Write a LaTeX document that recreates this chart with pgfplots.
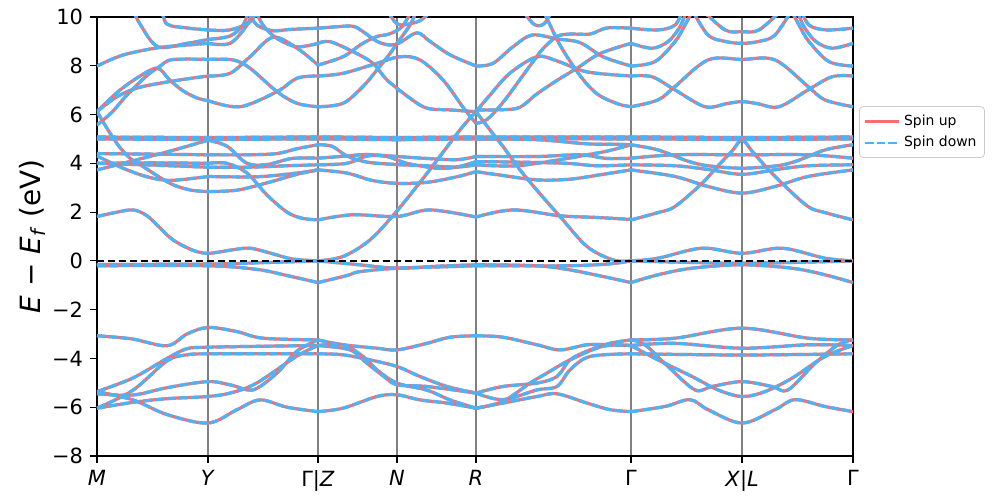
\documentclass[border=0pt]{standalone}
\usepackage{fontspec}
\setmainfont{DejaVu Sans}
\usepackage{pgfplots}
\pgfplotsset{compat=1.18}
\definecolor{spinup}{HTML}{FF6B6B}
\definecolor{spindn}{HTML}{4DB3F7}
\pgfplotsset{
 bu/.style={spinup, line width=1.6bp, smooth, tension=0.55, forget plot},
 bd/.style={spindn, line width=1.6bp, dash pattern=on 4.4bp off 1.5bp, smooth, tension=0.55, forget plot},
}
\newcommand{\band}[1]{\addplot[bu] coordinates {#1};\addplot[bd] coordinates {#1};}
\begin{document}
\begin{tikzpicture}
\useasboundingbox (-48.5bp,-21bp) rectangle (450bp,228bp);
\begin{axis}[
 at={(0,0)}, anchor=south west,
 scale only axis, width=378bp, height=219.5bp,
 xmin=0, xmax=756, ymin=-8, ymax=10,
 xtick={0,111,221,300,379,534,645,756},
 xticklabels={\textit{M},\textit{Y},Γ|\textit{Z},\textit{N},\textit{R},Γ,\textit{X}|\textit{L},Γ},
 ytick={-8,-6,-4,-2,0,2,4,6,8,10},
 yticklabels={−8,−6,−4,−2,0,2,4,6,8,10},
 tick label style={font=\fontsize{10.5}{12}\selectfont},
 tick align=outside, tick pos=left,
 major tick length=3.5bp,
 tick style={black, line width=0.6bp},
 xmajorgrids, major x grid style={black!50, line width=0.7bp},
 axis line style={line width=0.7bp},
 ylabel={\textit{E} − \textit{E}\textsubscript{\textit{f}} (eV)},
 ylabel style={at={(axis description cs:-0.085,0.5)}, anchor=center, font=\fontsize{14}{16}\selectfont},
 legend style={at={(axis description cs:1.008,0.797)}, anchor=north west, font=\fontsize{7}{8.5}\selectfont, draw=black!20, rounded corners=2pt, inner sep=2pt},
 legend cell align=left,
]
% ---------- M - Y ----------
\band{(36,10.3)(43,9.71)(61,8.78)(90,8.92)(111,9.08)}
\band{(0,7.99)(26,8.44)(61,8.74)(90,8.85)(111,8.92)}
\band{(65,10.3)(70,9.71)(90,9.55)(111,9.47)}
\band{(0,6.12)(20,6.9)(40,7.5)(60,7.9)(72,7.45)(85,7.0)(100,6.68)(111,6.57)}
\band{(0,6.12)(20,6.73)(43,7.12)(80,7.4)(111,7.58)}
\band{(0,5.57)(15,6.1)(30,6.8)(50,7.6)(62,7.95)(75,8.25)(111,8.26)}
\band{(0,4.4)(50,4.38)(111,4.35)}
\band{(0,4.3)(26,3.8)(50,3.45)(73,3.3)(111,3.46)}
\band{(0,3.73)(26,4.0)(73,4.5)(111,4.95)}
\band{(0,4.0)(55,3.93)(111,3.84)}
\band{(0,4.0)(55,4.02)(111,4.0)}
\band{(0,6.12)(11,5.37)(22,4.7)(33,4.21)(46,3.87)(73,3.18)(93,2.91)(111,2.84)}
\band{(0,5.08)(111,5.06)(221,5.08)(300,5.06)(379,5.08)(534,5.08)(645,5.06)(756,5.08)}
\band{(0,5.0)(111,4.98)(221,5.0)(300,4.97)(379,5.0)(534,5.0)(645,4.98)(756,5.0)}
\band{(0,1.82)(18,1.98)(36,2.09)(50,1.85)(63,1.35)(76,0.86)(95,0.45)(111,0.31)(135,0.45)(153,0.52)(175,0.3)(195,0.08)(221,0.0)}
\band{(0,-0.15)(111,-0.13)(160,-0.08)(221,0.0)}
\band{(0,-0.2)(111,-0.2)(160,-0.35)(190,-0.6)(221,-0.89)}
\band{(0,-3.07)(35,-3.2)(70,-3.48)(90,-3.0)(111,-2.73)(140,-2.9)(166,-3.17)(221,-3.24)}
\band{(0,-5.36)(36,-4.8)(70,-4.0)(90,-3.6)(111,-3.54)(166,-3.5)(221,-3.47)}
\band{(0,-6.04)(36,-5.3)(70,-4.1)(90,-3.85)(111,-3.81)(166,-3.81)(221,-3.81)}
\band{(0,-5.45)(36,-5.5)(70,-5.2)(111,-4.95)(135,-5.1)(156,-5.29)(180,-4.6)(200,-3.7)(221,-3.24)}
\band{(0,-6.04)(36,-5.8)(70,-5.65)(111,-5.56)(135,-5.4)(160,-5.0)(200,-3.9)(221,-3.47)}
\band{(0,-5.36)(36,-5.7)(70,-6.3)(111,-6.65)(140,-6.1)(163,-5.70)(190,-6.0)(221,-6.18)}
% ---------- Y - Gamma|Z ----------
\band{(111,8.26)(136,8.24)(153,7.90)(180,6.94)(200,6.46)(221,6.32)}
\band{(111,6.57)(143,6.32)(180,6.94)(200,7.49)(221,7.58)}
\band{(111,7.58)(133,7.69)(153,8.37)(176,9.17)(200,8.72)(221,8.03)}
\band{(111,8.92)(133,8.92)(150,9.67)(156,10.3)}
\band{(111,9.08)(133,9.22)(146,9.67)(152,10.3)}
\band{(111,9.47)(133,9.47)(153,9.8)(160,10.3)}
\band{(158,10.3)(166,9.67)(180,9.12)(200,8.78)(221,8.92)}
\band{(150,10.3)(160,9.67)(176,9.44)(193,9.49)(221,9.54)}
\band{(111,4.95)(130,4.7)(150,4.0)(170,3.95)(195,4.2)(221,4.21)}
\band{(111,4.35)(150,4.35)(180,4.4)(200,4.6)(221,4.76)}
\band{(111,4.0)(130,4.0)(150,3.6)(170,2.7)(190,2.0)(205,1.75)(221,1.68)}
\band{(111,3.84)(150,3.84)(190,3.9)(221,3.94)}
\band{(111,3.46)(160,3.45)(200,3.6)(221,3.73)}
\band{(111,2.84)(140,2.9)(170,3.2)(200,3.55)(221,3.73)}
% ---------- Gamma|Z - N - R ----------
\band{(221,9.54)(240,9.6)(256,9.62)(266,9.4)(280,9.0)(293,8.85)(303,8.95)(320,9.35)(333,9.0)(353,8.45)(379,7.99)}
\band{(221,8.92)(233,8.99)(256,8.58)(276,8.10)(290,7.42)(313,6.67)(330,6.26)(353,6.19)(379,6.12)}
\band{(221,8.03)(246,8.37)(265,8.9)(280,9.2)(292,9.3)(305,9.6)(315,10.3)}
\band{(221,7.58)(246,7.69)(280,8.10)(303,8.37)(323,8.24)(346,7.42)(366,6.3)(379,5.64)}
\band{(221,6.32)(246,6.46)(266,7.15)(280,7.83)(293,8.5)(300,8.92)(313,9.67)(320,10.3)}
\band{(290,10.3)(300,9.72)(313,9.72)(325,9.9)(335,10.3)}
\band{(221,0.0)(246,0.18)(273,0.86)(300,2.05)(330,3.59)(363,5.37)(379,6.12)}
\band{(221,4.76)(235,4.7)(250,4.3)(270,4.05)(300,3.95)(330,3.9)(360,3.85)(379,3.94)}
\band{(221,4.21)(250,4.3)(270,4.36)(300,4.28)(330,4.2)(360,4.15)(379,4.28)}
\band{(221,3.94)(250,4.0)(270,4.3)(290,4.28)(310,4.0)(340,3.8)(360,3.85)(379,4.07)}
\band{(221,3.73)(250,3.6)(275,3.3)(300,3.18)(330,3.22)(360,3.45)(379,3.66)}
\band{(221,1.68)(255,1.89)(300,1.82)(333,2.09)(379,1.8)}
\band{(221,0.0)(260,-0.15)(300,-0.3)(340,-0.22)(379,-0.16)}
\band{(221,-0.89)(250,-0.6)(263,-0.44)(300,-0.3)(340,-0.25)(379,-0.2)}
\band{(221,-3.24)(246,-3.44)(280,-3.58)(300,-3.65)(330,-3.38)(353,-3.13)(379,-3.07)}
\band{(221,-3.47)(246,-3.44)(266,-3.92)(280,-4.47)(300,-5.01)(330,-5.3)(353,-5.7)(379,-6.04)}
\band{(221,-3.81)(246,-3.85)(273,-4.06)(300,-4.33)(323,-4.74)(350,-5.15)(379,-5.42)}
\band{(221,-3.47)(253,-3.65)(270,-4.2)(287,-4.74)(300,-5.08)(330,-5.15)(379,-5.42)}
\band{(221,-6.18)(246,-6.04)(280,-5.56)(300,-5.49)(323,-5.7)(350,-5.83)(379,-6.04)}
% ---------- R - Gamma ----------
\band{(379,7.99)(396,8.1)(416,8.78)(435,9.26)(460,9.1)(483,8.95)(506,8.37)(534,7.99)}
\band{(379,6.12)(393,6.8)(413,7.7)(440,8.37)(460,8.2)(490,7.75)(534,7.58)}
\band{(379,6.19)(406,6.2)(423,6.3)(440,6.85)(460,7.4)(480,7.9)(503,8.5)(534,8.92)}
\band{(379,5.64)(390,5.8)(406,6.5)(433,8.0)(446,8.7)(460,9.2)(473,9.3)(493,9.3)(510,9.55)(534,9.54)}
\band{(446,10.3)(463,8.85)(483,7.6)(500,6.85)(520,6.45)(534,6.32)}
\band{(425,10.3)(437,9.7)(447,9.72)(455,10.3)}
\band{(379,6.12)(393,5.37)(406,4.69)(423,3.73)(443,2.75)(463,1.82)(490,0.59)(516,0.04)(534,0.0)}
\band{(379,5.0)(440,4.97)(490,4.8)(520,4.78)(534,4.76)}
\band{(379,4.28)(440,4.28)(483,4.35)(510,4.2)(534,4.21)}
\band{(379,4.07)(420,4.05)(470,4.0)(500,3.9)(534,3.94)}
\band{(379,3.94)(420,3.9)(470,4.2)(490,4.35)(510,4.5)(534,4.76)}
\band{(379,3.66)(406,3.5)(440,3.32)(473,3.35)(506,3.55)(534,3.73)}
\band{(379,1.8)(416,2.09)(463,1.85)(500,1.78)(534,1.7)}
\band{(379,-0.16)(440,-0.2)(473,-0.37)(506,-0.64)(534,-0.89)}
\band{(379,-0.2)(470,-0.2)(513,-0.12)(534,0.0)}
\band{(379,-3.07)(406,-3.13)(440,-3.44)(463,-3.65)(490,-3.44)(513,-3.44)(534,-3.47)}
\band{(379,-5.42)(406,-5.15)(440,-5.01)(460,-4.74)(473,-4.06)(493,-3.65)(513,-3.38)(534,-3.24)}
\band{(379,-5.42)(406,-5.69)(440,-5.29)(460,-5.15)(473,-4.47)(493,-3.92)(534,-3.81)}
\band{(379,-6.04)(406,-5.76)(433,-5.01)(450,-4.6)(473,-4.06)(506,-3.5)(534,-3.47)}
\band{(379,-6.04)(406,-5.83)(440,-5.56)(460,-5.45)(490,-5.83)(513,-6.1)(534,-6.18)}
% ---------- Gamma - X|L - Gamma ----------
\band{(534,7.58)(555,7.55)(578,7.01)(608,6.32)(630,6.45)(645,6.53)(660,6.45)(682,6.32)(711,7.01)(735,7.55)(756,7.58)}
\band{(534,6.32)(561,6.6)(578,7.15)(611,8.24)(645,8.26)(678,8.24)(711,7.15)(728,6.6)(756,6.32)}
\band{(534,7.99)(558,8.17)(578,8.99)(588,9.67)(596,10.3)}
\band{(694,10.3)(702,9.67)(712,8.99)(732,8.17)(756,7.99)}
\band{(534,8.92)(555,8.72)(571,8.99)(583,9.6)(590,10.3)}
\band{(700,10.3)(707,9.6)(719,8.99)(735,8.72)(756,8.92)}
\band{(534,9.54)(561,9.47)(578,9.67)(586,10.3)}
\band{(704,10.3)(712,9.67)(729,9.47)(756,9.54)}
\band{(595,10.3)(611,9.26)(628,9.0)(645,8.92)(662,9.0)(678,9.26)(695,10.3)}
\band{(605,10.3)(628,9.47)(645,9.4)(662,9.47)(685,10.3)}
\band{(534,4.76)(561,4.55)(590,4.1)(611,3.9)(645,3.8)(680,3.9)(700,4.1)(728,4.55)(756,4.76)}
\band{(534,4.21)(578,4.35)(645,4.35)(711,4.35)(756,4.21)}
\band{(534,3.94)(578,3.9)(611,3.75)(645,3.55)(680,3.75)(711,3.9)(756,3.94)}
\band{(534,3.73)(578,3.46)(611,3.05)(645,2.78)(678,3.05)(711,3.46)(756,3.73)}
\band{(534,1.68)(561,1.98)(578,2.23)(605,3.18)(621,3.9)(635,4.5)(645,4.96)(655,4.5)(668,3.9)(685,3.18)(711,2.23)(728,1.98)(756,1.68)}
\band{(534,0.0)(561,0.11)(605,0.52)(645,0.31)(685,0.52)(728,0.11)(756,0.0)}
\band{(534,0.0)(590,-0.06)(645,-0.1)(700,-0.06)(756,0.0)}
\band{(534,-0.89)(561,-0.57)(595,-0.3)(645,-0.16)(695,-0.3)(728,-0.57)(756,-0.89)}
\band{(534,-3.24)(578,-3.17)(645,-2.76)(711,-3.17)(756,-3.24)}
\band{(534,-3.47)(578,-3.38)(645,-3.58)(711,-3.44)(756,-3.47)}
\band{(534,-3.81)(590,-3.84)(645,-3.86)(700,-3.84)(756,-3.81)}
\band{(534,-3.24)(548,-3.44)(571,-4.33)(598,-5.29)(615,-5.15)(645,-4.95)(675,-5.15)(691,-5.29)(718,-4.2)(741,-3.44)(756,-3.24)}
\band{(534,-3.47)(561,-4.06)(595,-4.74)(621,-5.29)(645,-5.56)(668,-5.36)(695,-4.81)(728,-3.92)(756,-3.47)}
\band{(534,-6.18)(568,-5.97)(593,-5.69)(611,-6.1)(645,-6.65)(678,-6.1)(698,-5.69)(728,-5.97)(756,-6.18)}
% Fermi level
\addplot[black, line width=1bp, dash pattern=on 3.5bp off 2bp, forget plot] coordinates {(0,0)(756,0)};
\addlegendimage{spinup, line width=1.3bp}
\addlegendentry{Spin up}
\addlegendimage{spindn, line width=1.3bp, dash pattern=on 4.4bp off 1.5bp}
\addlegendentry{Spin down}
\end{axis}
\end{tikzpicture}
\end{document}
